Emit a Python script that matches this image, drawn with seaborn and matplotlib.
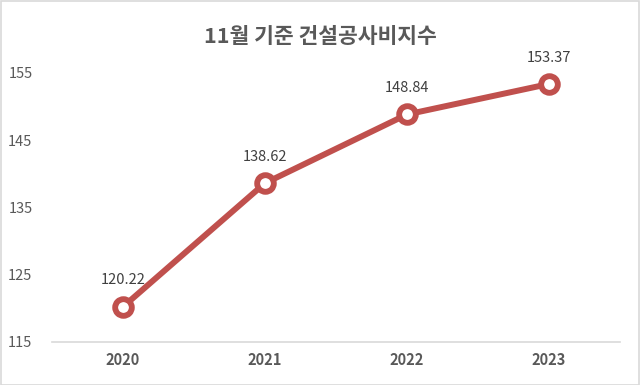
import matplotlib.pyplot as plt
import seaborn as sns
import pandas as pd

years = ["2020", "2021", "2022", "2023"]
values = [120.22, 138.62, 148.84, 153.37]
y_ticks = [115, 125, 135, 145, 155]
title = "11월 기준 건설공사비지수"

sns.set_theme(style="white")
plt.rcParams["font.family"] = ["Noto Sans CJK KR", "DejaVu Sans"]

dados = pd.DataFrame({"year": years, "value": values})

fig = plt.figure(figsize=(6.4, 3.85), dpi=100)
ax = fig.add_axes([0.081, 0.1117, 0.888, 0.6987])

sns.lineplot(
    data=dados,
    x="year",
    y="value",
    color="#C0504D",
    linewidth=4.3,
    marker="o",
    markersize=12,
    markerfacecolor="white",
    markeredgecolor="#C0504D",
    markeredgewidth=4.2,
    ax=ax,
    clip_on=False,
)

for i, v in enumerate(values):
    ax.annotate(
        f"{v:.2f}",
        (i, v),
        xytext=(0, 14),
        textcoords="offset points",
        ha="center",
        va="bottom",
        fontsize=10.5,
        color="#404040",
    )

ax.set_xlim(-0.5, 3.5)
ax.set_ylim(115, 155)
ax.set_yticks(y_ticks)
ax.set_xlabel("")
ax.set_ylabel("")

for s in ["top", "right", "left"]:
    ax.spines[s].set_visible(False)
ax.spines["bottom"].set_color("#D9D9D9")
ax.spines["bottom"].set_linewidth(1.2)

ax.tick_params(axis="y", length=0, pad=14, labelsize=10.5, labelcolor="#595959")
ax.tick_params(axis="x", length=0, pad=7, labelsize=10.5, labelcolor="#595959")
for lab in ax.get_xticklabels():
    lab.set_fontweight("bold")

fig.text(0.5, 0.905, title, ha="center", va="center",
         fontsize=15.5, fontweight="bold", color="#595959")

fig.patches.append(plt.Rectangle((0.001, 0.001), 0.997, 0.997, transform=fig.transFigure,
                                 fill=False, edgecolor="#D9D9D9", linewidth=1.2))

plt.savefig("out.png", dpi=100)
plt.close()
